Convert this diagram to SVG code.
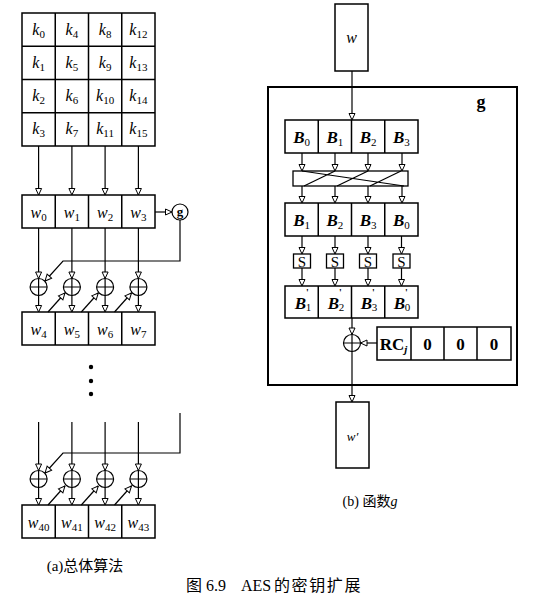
<svg xmlns="http://www.w3.org/2000/svg" xmlns:xlink="http://www.w3.org/1999/xlink" width="554" height="607" viewBox="0 0 554 607">
<style>
.box{fill:#fff;stroke:#000;stroke-width:1.5}
.ln{stroke:#000;stroke-width:1.2;fill:none}
.arr{marker-end:url(#ah)}
.t{font-family:"Liberation Serif","DejaVu Serif",serif;font-size:16px;font-style:italic;text-anchor:middle;fill:#000}
.big{font-size:17px}
.sub{font-size:11px;font-style:normal;font-weight:normal}
.pr{font-size:10px;font-style:normal;font-weight:bold}
.b{font-weight:bold}
.r{font-style:normal}
.cap{font-family:"Liberation Serif","Noto Sans CJK SC",serif;font-size:14px;fill:#000}
</style>
<defs>
<marker id="ah" viewBox="0 0 8 8" refX="7.5" refY="4" markerWidth="8" markerHeight="8" markerUnits="userSpaceOnUse" orient="auto">
<path d="M1,1 L7.5,4 L1,7 Z" fill="#fff" stroke="#000" stroke-width="1"/>
</marker>
<g id="xor">
<circle cx="0" cy="0" r="8.5" fill="#fff" stroke="#000" stroke-width="1.2"/>
<path d="M-8.5,0 H8.5 M0,-8.5 V8.5" stroke="#000" stroke-width="1.2"/>
</g>
</defs>

<!-- key grid -->
<g id="keys">
<rect class="box" x="22" y="13" width="133" height="133"/>
<path class="ln" d="M55.25,13V146 M88.5,13V146 M121.75,13V146 M22,46.25H155 M22,79.5H155 M22,112.75H155" style="stroke-width:1.5"/>
<text class="t" x="38.6" y="35">k<tspan class="sub" dy="3">0</tspan></text>
<text class="t" x="71.9" y="35">k<tspan class="sub" dy="3">4</tspan></text>
<text class="t" x="105.1" y="35">k<tspan class="sub" dy="3">8</tspan></text>
<text class="t" x="138.4" y="35">k<tspan class="sub" dy="3">12</tspan></text>
<text class="t" x="38.6" y="68">k<tspan class="sub" dy="3">1</tspan></text>
<text class="t" x="71.9" y="68">k<tspan class="sub" dy="3">5</tspan></text>
<text class="t" x="105.1" y="68">k<tspan class="sub" dy="3">9</tspan></text>
<text class="t" x="138.4" y="68">k<tspan class="sub" dy="3">13</tspan></text>
<text class="t" x="38.6" y="101">k<tspan class="sub" dy="3">2</tspan></text>
<text class="t" x="71.9" y="101">k<tspan class="sub" dy="3">6</tspan></text>
<text class="t" x="105.1" y="101">k<tspan class="sub" dy="3">10</tspan></text>
<text class="t" x="138.4" y="101">k<tspan class="sub" dy="3">14</tspan></text>
<text class="t" x="38.6" y="134">k<tspan class="sub" dy="3">3</tspan></text>
<text class="t" x="71.9" y="134">k<tspan class="sub" dy="3">7</tspan></text>
<text class="t" x="105.1" y="134">k<tspan class="sub" dy="3">11</tspan></text>
<text class="t" x="138.4" y="134">k<tspan class="sub" dy="3">15</tspan></text>
</g>

<!-- w0..w3 -->
<g id="w0_3">
<rect class="box" x="22" y="195" width="133" height="33"/>
<path class="ln" d="M55.25,195V228 M88.5,195V228 M121.75,195V228" style="stroke-width:1.5"/>
<text class="t" x="38.6" y="218">w<tspan class="sub" dy="3">0</tspan></text>
<text class="t" x="71.9" y="218">w<tspan class="sub" dy="3">1</tspan></text>
<text class="t" x="105.1" y="218">w<tspan class="sub" dy="3">2</tspan></text>
<text class="t" x="138.4" y="218">w<tspan class="sub" dy="3">3</tspan></text>
</g>

<g id="gcirc">
<circle cx="180" cy="212" r="8" fill="#fff" stroke="#000" stroke-width="1.2"/>
<text class="t b r" x="180" y="216" style="font-size:13px">g</text>
</g>

<g id="xors1">
<use xlink:href="#xor" x="38.6" y="287"/>
<use xlink:href="#xor" x="71.9" y="287"/>
<use xlink:href="#xor" x="105.1" y="287"/>
<use xlink:href="#xor" x="138.4" y="287"/>
</g>

<g id="w4_7">
<rect class="box" x="22" y="312" width="133" height="33"/>
<path class="ln" d="M55.25,312V345 M88.5,312V345 M121.75,312V345" style="stroke-width:1.5"/>
<text class="t" x="38.6" y="335">w<tspan class="sub" dy="3">4</tspan></text>
<text class="t" x="71.9" y="335">w<tspan class="sub" dy="3">5</tspan></text>
<text class="t" x="105.1" y="335">w<tspan class="sub" dy="3">6</tspan></text>
<text class="t" x="138.4" y="335">w<tspan class="sub" dy="3">7</tspan></text>
</g>

<g id="dots">
<circle cx="91" cy="367" r="2.2"/>
<circle cx="91" cy="381" r="2.2"/>
<circle cx="91" cy="394" r="2.2"/>
</g>

<g id="xors2">
<use xlink:href="#xor" x="38.6" y="479"/>
<use xlink:href="#xor" x="71.9" y="479"/>
<use xlink:href="#xor" x="105.1" y="479"/>
<use xlink:href="#xor" x="138.4" y="479"/>
</g>

<g id="w40_43">
<rect class="box" x="22" y="505" width="133" height="33"/>
<path class="ln" d="M55.25,505V538 M88.5,505V538 M121.75,505V538" style="stroke-width:1.5"/>
<text class="t" x="38.6" y="528">w<tspan class="sub" dy="3">40</tspan></text>
<text class="t" x="71.9" y="528">w<tspan class="sub" dy="3">41</tspan></text>
<text class="t" x="105.1" y="528">w<tspan class="sub" dy="3">42</tspan></text>
<text class="t" x="138.4" y="528">w<tspan class="sub" dy="3">43</tspan></text>
</g>

<text class="cap" x="85" y="571" text-anchor="middle" style="font-size:15px">(a)总体算法</text>

<!-- right: function g -->
<g id="w_in">
<rect class="box" x="335" y="4" width="33" height="67"/>
<text class="t" x="351.5" y="43">w</text>
</g>

<g id="gbox">
<rect x="268" y="87" width="249" height="298" fill="none" stroke="#000" stroke-width="2"/>
<text class="t b r" x="481" y="108" style="font-size:18px">g</text>
</g>

<g id="brow1">
<rect class="box" x="285" y="120" width="133" height="33"/>
<path class="ln" d="M318.25,120V153 M351.5,120V153 M384.75,120V153" style="stroke-width:1.5"/>
<text class="t b big" x="301.6" y="143">B<tspan class="sub" dy="3">0</tspan></text>
<text class="t b big" x="334.9" y="143">B<tspan class="sub" dy="3">1</tspan></text>
<text class="t b big" x="368.1" y="143">B<tspan class="sub" dy="3">2</tspan></text>
<text class="t b big" x="401.4" y="143">B<tspan class="sub" dy="3">3</tspan></text>
</g>

<g id="perm">
<rect class="box" x="293" y="171" width="115" height="15" style="stroke-width:1.3"/>
<path class="ln" d="M302,171 L404,186 M335,171 L304,186 M368,171 L337,186 M401,171 L370,186"/>
</g>

<g id="brow2">
<rect class="box" x="285" y="203" width="133" height="33"/>
<path class="ln" d="M318.25,203V236 M351.5,203V236 M384.75,203V236" style="stroke-width:1.5"/>
<text class="t b big" x="301.6" y="226">B<tspan class="sub" dy="3">1</tspan></text>
<text class="t b big" x="334.9" y="226">B<tspan class="sub" dy="3">2</tspan></text>
<text class="t b big" x="368.1" y="226">B<tspan class="sub" dy="3">3</tspan></text>
<text class="t b big" x="401.4" y="226">B<tspan class="sub" dy="3">0</tspan></text>
</g>

<g id="sboxes">
<rect class="box" x="293.5" y="254" width="17" height="14" style="stroke-width:1.3"/>
<rect class="box" x="326.5" y="254" width="17" height="14" style="stroke-width:1.3"/>
<rect class="box" x="359.5" y="254" width="17" height="14" style="stroke-width:1.3"/>
<rect class="box" x="393" y="254" width="17" height="14" style="stroke-width:1.3"/>
<text class="t r" x="302" y="266.5" style="font-size:15px">S</text>
<text class="t r" x="335" y="266.5" style="font-size:15px">S</text>
<text class="t r" x="368" y="266.5" style="font-size:15px">S</text>
<text class="t r" x="401.5" y="266.5" style="font-size:15px">S</text>
</g>

<g id="brow3">
<rect class="box" x="285" y="286" width="133" height="32"/>
<path class="ln" d="M318.25,286V318 M351.5,286V318 M384.75,286V318" style="stroke-width:1.5"/>
<text class="t b big" x="303" y="309">B<tspan class="pr" dy="-13">'</tspan><tspan class="sub" dx="-3" dy="15">1</tspan></text>
<text class="t b big" x="336" y="309">B<tspan class="pr" dy="-13">'</tspan><tspan class="sub" dx="-3" dy="15">2</tspan></text>
<text class="t b big" x="369" y="309">B<tspan class="pr" dy="-13">'</tspan><tspan class="sub" dx="-3" dy="15">3</tspan></text>
<text class="t b big" x="402" y="309">B<tspan class="pr" dy="-13">'</tspan><tspan class="sub" dx="-3" dy="15">0</tspan></text>
</g>

<g id="xorg">
<use xlink:href="#xor" x="352" y="343"/>
</g>

<g id="rcrow">
<rect class="box" x="377" y="327" width="134" height="33"/>
<path class="ln" d="M411,327V360 M444,327V360 M477,327V360" style="stroke-width:1.5"/>
<text class="t b r big" x="393.5" y="350">RC<tspan class="sub" dy="3" style="font-style:italic;font-weight:bold">j</tspan></text>
<text class="t b r big" x="427.5" y="350">0</text>
<text class="t b r big" x="460.5" y="350">0</text>
<text class="t b r big" x="494" y="350">0</text>
</g>

<g id="w_out">
<rect class="box" x="336" y="402" width="33" height="66"/>
<text class="t" x="352.5" y="441" style="font-size:13px">w′</text>
</g>

<text class="cap" x="370" y="506" text-anchor="middle">(b) 函数<tspan font-style="italic">g</tspan></text>

<g id="figcap" class="cap" style="font-size:16px">
<text x="186" y="591">图</text>
<text x="206" y="591">6.9</text>
<text x="241" y="591">AES</text>
<text x="274" y="591" style="letter-spacing:1.6px">的密钥扩展</text>
</g>

<!-- connectors -->
<g id="connectors">
<path class="ln arr" d="M38.6,146V195"/>
<path class="ln arr" d="M71.9,146V195"/>
<path class="ln arr" d="M105.1,146V195"/>
<path class="ln arr" d="M138.4,146V195"/>
<path class="ln arr" d="M155,212H172"/>
<path class="ln arr" d="M180,220V261H63L45,281"/>
<path class="ln arr" d="M38.6,228V278.5"/>
<path class="ln arr" d="M71.9,228V278.5"/>
<path class="ln arr" d="M105.1,228V278.5"/>
<path class="ln arr" d="M138.4,228V278.5"/>
<path class="ln arr" d="M38.6,295.5V312"/>
<path class="ln arr" d="M71.9,295.5V312"/>
<path class="ln arr" d="M105.1,295.5V312"/>
<path class="ln arr" d="M138.4,295.5V312"/>
<path class="ln arr" d="M48,312L65,293"/>
<path class="ln arr" d="M81.3,312L98.3,293"/>
<path class="ln arr" d="M114.5,312L131.5,293"/>

<path class="ln arr" d="M38.6,422V470.5"/>
<path class="ln arr" d="M71.9,422V470.5"/>
<path class="ln arr" d="M105.1,422V470.5"/>
<path class="ln arr" d="M138.4,422V470.5"/>
<path class="ln arr" d="M180,413V453H63L45,473"/>
<path class="ln arr" d="M38.6,487.5V505"/>
<path class="ln arr" d="M71.9,487.5V505"/>
<path class="ln arr" d="M105.1,487.5V505"/>
<path class="ln arr" d="M138.4,487.5V505"/>
<path class="ln arr" d="M48,505L65,486"/>
<path class="ln arr" d="M81.3,505L98.3,486"/>
<path class="ln arr" d="M114.5,505L131.5,486"/>

<path class="ln arr" d="M352,71V120"/>
<path class="ln arr" d="M302,153V171"/>
<path class="ln arr" d="M335,153V171"/>
<path class="ln arr" d="M368,153V171"/>
<path class="ln arr" d="M402,153V171"/>
<path class="ln arr" d="M302,186V203"/>
<path class="ln arr" d="M335,186V203"/>
<path class="ln arr" d="M368,186V203"/>
<path class="ln arr" d="M402,186V203"/>
<path class="ln arr" d="M302,236V254"/>
<path class="ln arr" d="M335,236V254"/>
<path class="ln arr" d="M368,236V254"/>
<path class="ln arr" d="M401.5,236V254"/>
<path class="ln arr" d="M302,268V286"/>
<path class="ln arr" d="M335,268V286"/>
<path class="ln arr" d="M368,268V286"/>
<path class="ln arr" d="M401.5,268V286"/>
<path class="ln arr" d="M352,318V334.5"/>
<path class="ln arr" d="M377,343H360.5"/>
<path class="ln arr" d="M352,351.5V402"/>
</g>
</svg>
